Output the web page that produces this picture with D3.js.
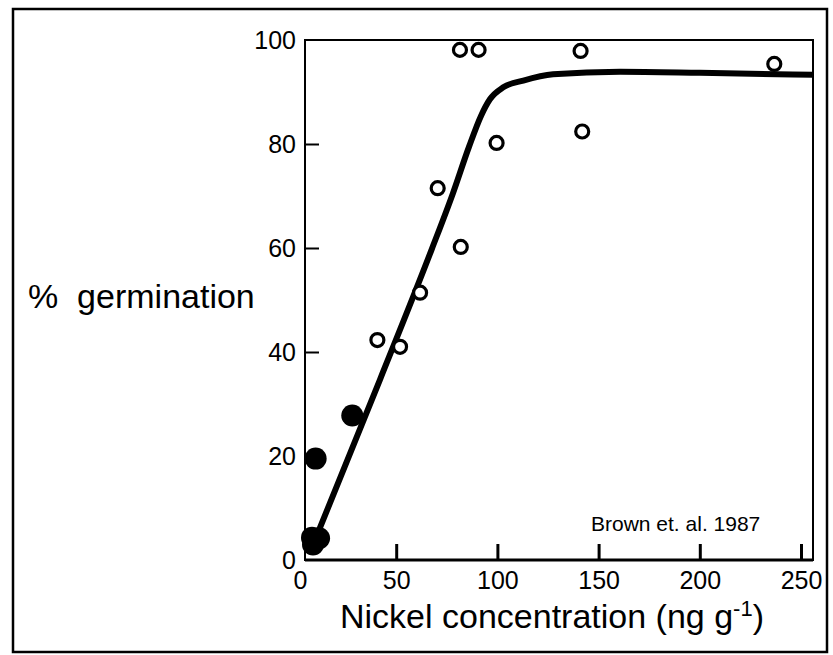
<!DOCTYPE html>
<html lang="en">
  <head>
    <meta charset="UTF-8" />
    <title>Nickel germination</title>
    <script src="https://cdn.jsdelivr.net/npm/d3@7"></script>
    <style>
      body { margin: 0; background: #fff; }
      svg { display: block; font-family: 'Liberation Sans', Arial, sans-serif; }
    </style>
  </head>
  <body>
    <div id="container"></div>
    <script>
      // data
      const xTicks = [0, 50, 100, 150, 200, 250]
      const yTicks = [0, 20, 40, 60, 80, 100]

      // open circles
      const openX = [81.5, 90.7, 141.1, 236.8, 99.6, 141.9, 70.5, 81.9, 61.8, 40.7, 51.9]
      const openY = [98.1, 98.1, 97.9, 95.4, 80.2, 82.4, 71.5, 60.2, 51.4, 42.3, 41.0]

      // filled circles
      const filledX = [28.3, 10.2, 8.4, 11.9, 8.9]
      const filledY = [27.8, 19.5, 4.3, 4.2, 3.0]

      // fitted curve
      const curveX = [9, 42, 67.5, 78, 86, 92, 96.3, 102.9, 112.8, 127.5, 160.6, 200, 256]
      const curveY = [3, 34.7, 59.7, 70.5, 79.5, 85.5, 88.6, 90.9, 92.2, 93.4, 93.9, 93.7, 93.3]

      const width = 833
      const height = 655
      // plot frame
      const frameLeft = 305
      const frameRight = 813
      const frameTop = 40
      const frameBottom = 560

      const xScale = d3.scaleLinear().domain([0, 250]).range([295, 801])
      const yScale = d3.scaleLinear().domain([0, 100]).range([frameBottom, frameTop])

      const svg = d3.create('svg')
        .attr('width', width)
        .attr('height', height)
        .attr('viewBox', [0, 0, width, height])

      svg.append('rect')
        .attr('width', width).attr('height', height)
        .attr('fill', '#fff')

      // outer border
      svg.append('rect')
        .attr('x', 13).attr('y', 9)
        .attr('width', 814).attr('height', 643)
        .attr('fill', 'none')
        .attr('stroke', '#000')
        .attr('stroke-width', 2.5)

      // plot frame
      svg.append('rect')
        .attr('x', frameLeft).attr('y', frameTop)
        .attr('width', frameRight - frameLeft)
        .attr('height', frameBottom - frameTop)
        .attr('fill', 'none')
        .attr('stroke', '#000')
        .attr('stroke-width', 2)
      svg.append('line')
        .attr('x1', frameLeft).attr('x2', frameRight)
        .attr('y1', frameBottom).attr('y2', frameBottom)
        .attr('stroke', '#000')
        .attr('stroke-width', 3)

      // x axis, ticks pointing in
      const xAxis = svg.append('g')
        .attr('transform', `translate(0, ${frameBottom})`)
        .call(d3.axisBottom(xScale)
          .tickValues(xTicks)
          .tickSizeInner(-16)
          .tickSizeOuter(0)
          .tickPadding(11))
      xAxis.select('.domain').remove()
      xAxis.selectAll('.tick line')
        .attr('stroke-width', 3)
        .filter(d => d === 0).remove()
      xAxis.selectAll('.tick text')
        .attr('font-size', 25)
        .attr('fill', '#000')
        .attr('x', d => d === 0 ? 5 : 0)
      xAxis.attr('font-family', null)

      // y axis, ticks pointing in
      const yAxis = svg.append('g')
        .attr('transform', `translate(${frameLeft}, 0)`)
        .call(d3.axisLeft(yScale)
          .tickValues(yTicks)
          .tickSizeInner(-14)
          .tickSizeOuter(0)
          .tickPadding(9))
      yAxis.select('.domain').remove()
      yAxis.selectAll('.tick line')
        .attr('stroke-width', 2)
        .filter(d => d === 0 || d === 100).remove()
      yAxis.selectAll('.tick text')
        .attr('font-size', 25)
        .attr('fill', '#000')
      yAxis.attr('font-family', null)

      // fitted curve
      const line = d3.line()
        .x((d, i) => xScale(curveX[i]))
        .y(d => yScale(d))
        .curve(d3.curveMonotoneX)
      svg.append('path')
        .attr('d', line(curveY))
        .attr('fill', 'none')
        .attr('stroke', '#000')
        .attr('stroke-width', 6)

      // filled circles
      svg.append('g')
        .selectAll('circle')
        .data(filledY)
        .join('circle')
        .attr('cx', (d, i) => xScale(filledX[i]))
        .attr('cy', d => yScale(d))
        .attr('r', 11)
        .attr('fill', '#000')

      // open circles
      svg.append('g')
        .selectAll('circle')
        .data(openY)
        .join('circle')
        .attr('cx', (d, i) => xScale(openX[i]))
        .attr('cy', d => yScale(d))
        .attr('r', 6.5)
        .attr('fill', '#fff')
        .attr('stroke', '#000')
        .attr('stroke-width', 3.2)

      // axis titles
      svg.append('text')
        .attr('x', 28).attr('y', 308)
        .attr('font-size', 34)
        .attr('xml:space', 'preserve')
        .style('white-space', 'pre')
        .text('%  germination')

      const xTitle = svg.append('text')
        .attr('x', 552).attr('y', 628)
        .attr('text-anchor', 'middle')
        .attr('font-size', 34)
      xTitle.append('tspan').text('Nickel concentration (ng g')
      xTitle.append('tspan').attr('font-size', 22).attr('dy', -12).text('-1')
      xTitle.append('tspan').attr('dy', 12).text(')')

      svg.append('text')
        .attr('x', 591).attr('y', 531)
        .attr('font-size', 21)
        .text('Brown et. al. 1987')

      container.append(svg.node())
    </script>
  </body>
</html>
